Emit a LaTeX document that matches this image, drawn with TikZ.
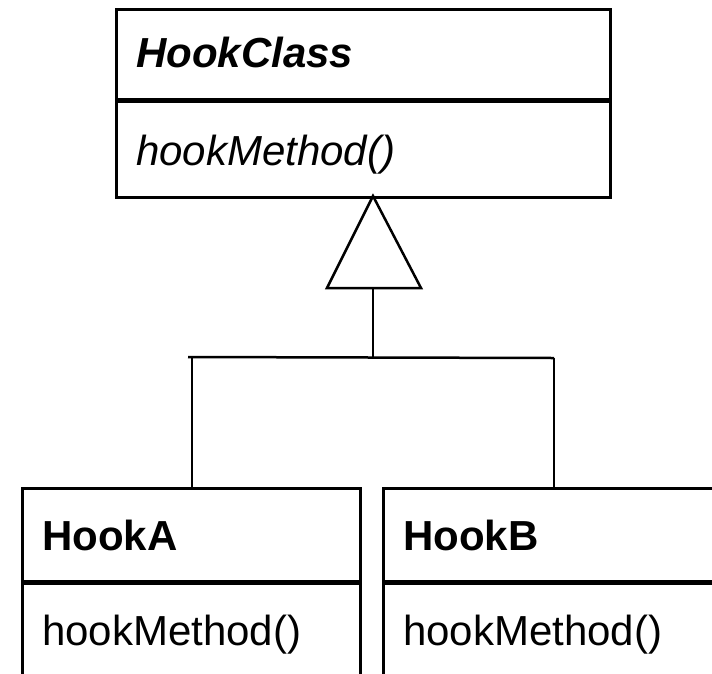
\documentclass[tikz,border=0pt]{standalone}
\usepackage{fontspec}
\setmainfont{Liberation Sans}
\begin{document}
\begin{tikzpicture}[x=1pt,y=-1pt,
  box/.style={draw=black, line width=3pt, inner sep=0pt, anchor=north west},
  divider/.style={line width=5pt},
  conn/.style={line width=2.5pt, line cap=butt},
  lbl/.style={anchor=base west, inner sep=0pt, font=\fontsize{42}{48}\selectfont}
]
\useasboundingbox (0,0) rectangle (712,673);
\fill[white] (0,0) rectangle (712,673);
\clip (0,0) rectangle (712,673);

% top class
\node[box, minimum width=494pt, minimum height=188pt] (hc) at (115,8) {};
\draw[divider] (115,100) -- (609,100);
\node[lbl, font=\fontsize{42}{48}\selectfont\bfseries\itshape] (hcname) at (136,67) {HookClass};
\node[lbl, font=\fontsize{42}{48}\selectfont\itshape] (hcm) at (136,165) {hookMethod()};

% sub classes
\node[box, minimum width=338pt, minimum height=230pt] (ha) at (21,487) {};
\draw[divider] (21,582) -- (359,582);
\node[lbl, font=\fontsize{42}{48}\selectfont\bfseries] (haname) at (42,550) {HookA};
\node[lbl] (ham) at (42,645) {hookMethod()};

\node[box, minimum width=338pt, minimum height=230pt] (hb) at (382,487) {};
\draw[divider] (382,582) -- (720,582);
\node[lbl, font=\fontsize{42}{48}\selectfont\bfseries] (hbname) at (403,550) {HookB};
\node[lbl] (hbm) at (403,645) {hookMethod()};

% generalization
\coordinate (apex) at (373,196);
\coordinate (bl) at (327,288);
\coordinate (br) at (421,288);
\coordinate (bm) at (373,288);
\coordinate (jn) at (373,358);
\coordinate (barl) at (188,357);
\coordinate (barr) at (554,358);
\coordinate (ta) at (192,357);
\draw[conn, line join=miter] (apex) -- (bl) -- (br) -- cycle;
\draw[conn] (bm) -- (jn);
\draw[conn] (barl) -- (barr);
\draw[conn] (ta) -- (ta |- ha.north);
\draw[conn] (barr) -- (barr |- hb.north);
\end{tikzpicture}
\end{document}
